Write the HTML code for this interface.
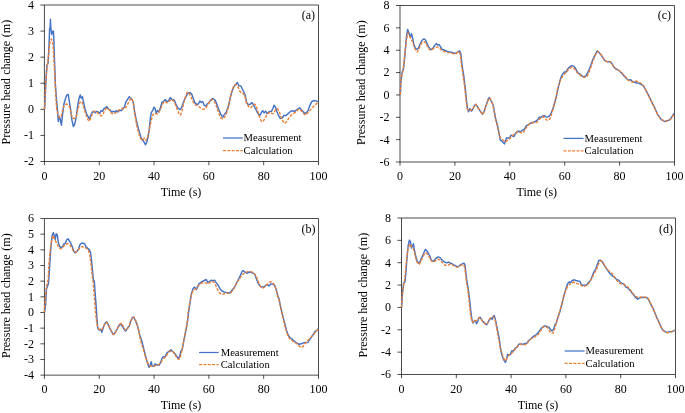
<!DOCTYPE html>
<html><head><meta charset="utf-8"><title>Pressure head change</title>
<style>
html,body{margin:0;padding:0;background:#fff;}
body{width:685px;height:413px;overflow:hidden;font-family:"Liberation Serif",serif;}
svg{display:block;will-change:transform;}
</style></head><body>
<svg width="685" height="413" viewBox="0 0 685 413">
<rect width="685" height="413" fill="#fff"/>
<g stroke="#000" stroke-width="0.7" fill="none">
<path d="M44.42 5H318.5V161.5H44.42Z"/>
<path d="M40.42 5H44.42M40.42 31.08H44.42M40.42 57.17H44.42M40.42 83.25H44.42M40.42 109.33H44.42M40.42 135.42H44.42M40.42 161.5H44.42M44.42 161.5V165.2M99.24 161.5V165.2M154.05 161.5V165.2M208.87 161.5V165.2M263.68 161.5V165.2M318.5 161.5V165.2"/>
</g>
<g font-family='"Liberation Serif", serif' font-size="12" fill="#000">
<text x="33.92" y="8.9" text-anchor="end">4</text>
<text x="33.92" y="34.98" text-anchor="end">3</text>
<text x="33.92" y="61.07" text-anchor="end">2</text>
<text x="33.92" y="87.15" text-anchor="end">1</text>
<text x="33.92" y="113.23" text-anchor="end">0</text>
<text x="33.92" y="139.32" text-anchor="end">-1</text>
<text x="33.92" y="165.4" text-anchor="end">-2</text>
<text x="44.42" y="179.5" text-anchor="middle">0</text>
<text x="99.24" y="179.5" text-anchor="middle">20</text>
<text x="154.05" y="179.5" text-anchor="middle">40</text>
<text x="208.87" y="179.5" text-anchor="middle">60</text>
<text x="263.68" y="179.5" text-anchor="middle">80</text>
<text x="318.5" y="179.5" text-anchor="middle">100</text>
<text x="181.06" y="195.6" text-anchor="middle">Time (s)</text>
<text transform="translate(9.72 28.5) rotate(-90)" text-anchor="middle">(m)</text>
<text transform="translate(9.72 57.85) rotate(-90)" text-anchor="middle">change</text>
<text transform="translate(9.72 89.45) rotate(-90)" text-anchor="middle">head</text>
<text transform="translate(9.72 124.1) rotate(-90)" text-anchor="middle">Pressure</text>
<text x="315.1" y="19.2" text-anchor="end">(a)</text>
</g>
<polyline fill="none" stroke="#4472C4" stroke-width="1.45" stroke-linejoin="round" points="44.6,109.3 45.3,95 45.9,82 46.9,65.5 48.1,63 48.7,52 49.3,38 49.6,28.5 50.15,27.5 50.45,19.3 50.8,27.5 51.2,31 51.7,34.5 52.3,31.5 52.9,33 53.4,31 53.9,40 54.2,52 54.8,68 55.3,82 55.43,85 56.16,95.22 57.33,108.36 58.35,121.5 59.23,116.39 60.25,119.31 61.42,125.15 62.44,115.66 63.9,103.98 66.09,96.68 67.11,94.93 68.28,94.49 69.01,99.6 70.47,108.36 71.93,120.04 73.39,126.61 74.85,123.69 76.31,116.39 77.77,105.44 79.23,97.41 80.25,94.93 81.12,98.14 82.44,96.68 83.61,102.52 85.07,109.09 86.53,113.47 88.72,117.85 89.45,118.87 90.91,114.93 92.36,112.01 93.82,111.28 95.28,112.74 96.74,111.28 98.2,112.01 99.66,113.47 101.12,110.55 102.58,111.28 104.04,108.36 105.5,107.63 106.96,106.61 108.42,109.09 109.88,109.82 111.78,112.01 113.53,111.28 114.99,112.01 116.45,110.55 117.91,112.01 119.37,110.55 121.56,110.55 123.02,108.36 124.48,106.9 125.94,101.79 127.4,99.6 129.3,96.68 131.05,98.43 132.51,100.33 133.46,103.14 134.63,111.9 136.09,119.2 137.84,126.5 139.3,131.61 140.76,136.72 142.51,140.36 143.97,141.82 145.43,144.74 146.89,141.82 148.06,136.72 149.23,129.42 150.25,119.2 151.27,112.63 152.73,110.44 153.9,107.23 155.07,108.25 156.09,113.36 157.55,110.44 159.01,111.9 160.47,107.52 161.93,102.41 163.82,100.95 165.28,99.49 167.04,101.68 168.5,100.95 170.25,97.59 172.15,99.49 174.34,100.22 175.8,103.87 177.55,107.52 179.88,109.71 181.64,107.52 183.09,103.14 184.55,99.49 186.31,95.84 188.2,92.92 190.1,92.63 191.85,94.38 193.31,98.76 195.07,103.14 196.96,104.6 198.42,103.87 199.88,100.95 201.34,102.41 202.8,101.68 204.26,105.33 205.72,106.06 207.18,103.87 208.64,103.14 210.83,99.93 213.02,98.47 215.21,100.22 216.67,103.87 218.86,109.71 220.76,114.09 222.51,117.01 224.7,114.09 226.19,112.15 228.38,106.31 230.13,98.28 232.03,90.98 233.93,86.6 235.68,84.41 237.43,82.51 238.89,85.87 240.79,85.87 242.25,88.79 243.71,91.71 245.17,95.36 246.63,102.66 248.53,104.85 250.28,104.12 252.03,102.66 253.93,105.58 255.82,109.23 257.58,112.88 259.77,115.8 261.23,112.88 262.69,110.69 264.15,112.88 265.61,111.12 267.07,113.61 269.26,111.42 271.45,111.42 272.91,108.5 274.07,105.28 275.39,107.04 276.85,111.42 278.31,115.07 280.2,118.42 282.1,117.99 283.85,115.5 286.04,115.5 288.23,113.61 290.42,111.42 292.61,110.69 294.8,111.42 296.99,109.66 299.62,107.77 301.37,109.66 303.56,112.15 305.75,113.61 307.94,110.69 309.84,105.58 311.59,101.93 313.78,100.47 315.97,100.91 318.6,101.93"/>
<polyline fill="none" stroke="#ED7D31" stroke-width="1.4" stroke-linejoin="round" stroke-dasharray="2.9 1.45" points="44.5,109.3 45.2,95 45.8,82 46.5,72 47.5,65 48.5,55 49.5,45 50.5,40.5 51.4,39.1 52.3,41 53,45 53.8,57 54.5,70 55.3,85 55.43,89.38 56.6,108.36 58.06,114.93 59.81,117.85 61.27,116.39 62.73,109.82 64.19,105.44 66.09,103.98 67.99,104.42 69.74,106.9 71.2,114.2 72.66,117.85 74.41,118.58 76.31,116.39 77.77,109.82 79.23,103.98 80.69,101.35 82.15,102.52 83.61,106.9 85.07,112.01 86.53,116.39 87.99,119.74 89.45,121.2 90.91,117.85 92.36,113.47 93.82,111.57 95.28,111.28 97.47,112.45 99.66,114.93 101.56,115.95 103.31,113.47 105.5,109.09 106.96,108.07 109.15,109.82 111.34,113.03 113.53,114.2 115.72,112.74 117.91,110.99 120.1,109.09 122.29,108.36 124.48,109.09 126.67,106.17 128.86,101.79 130.76,98.43 132.22,98.87 133.46,104.6 134.92,114.82 136.38,123.58 137.84,130.15 139.3,135.26 140.76,138.91 142.51,140.36 144.41,138.18 145.87,140.36 147.33,138.18 148.79,132.34 150.25,125.04 151.71,118.47 153.17,114.09 155.36,113.36 157.11,114.09 159.01,111.9 160.91,108.25 162.66,103.87 164.85,101.39 167.04,102.85 169.23,100.95 171.42,99.49 173.61,100.95 175.5,104.6 177.26,109.71 179.01,114.09 180.47,115.11 181.93,111.9 183.39,104.6 185.28,97.3 187.18,92.19 189.23,93.65 191.12,97.3 193.02,101.68 194.77,104.6 196.96,105.33 199.15,106.79 201.34,108.69 203.53,109.42 205.72,108.25 207.91,104.6 210.1,100.95 212.29,99.49 214.48,101.68 216.67,106.79 218.86,113.36 220.76,118.03 222.51,118.91 224.7,117.01 226.19,114.34 228.38,107.04 230.13,98.28 232.03,90.25 233.93,85.87 235.97,84.41 237.87,86.6 239.77,90.98 241.52,93.17 243.71,93.9 245.17,97.55 246.63,103.39 248.53,106.31 250.57,107.77 252.47,106.31 254.36,104.12 256.12,105.58 257.87,111.42 259.77,117.99 261.66,121.64 263.42,120.91 265.61,117.26 267.8,113.61 269.99,112.15 271.88,113.61 273.64,113.61 275.39,109.96 277.28,108.5 279.18,111.42 280.93,116.53 282.69,120.91 284.58,123.39 286.77,121.64 288.96,117.99 291.15,115.07 293.34,113.61 295.53,112.15 297.72,109.96 299.62,109.23 301.66,111.12 303.56,113.61 305.75,115.07 307.94,112.58 310.13,110.25 312.32,107.77 314.51,105.58 316.7,103.39 318.6,101.93"/>
<path d="M223 138H242.9" stroke="#4472C4" stroke-width="1.25" fill="none"/>
<path d="M223 150.5H242.9" stroke="#ED7D31" stroke-width="1.25" stroke-dasharray="2.9 1.45" fill="none"/>
<g font-family='"Liberation Serif", serif' font-size="10.65" fill="#000"><text x="243.6" y="141.3">Measurement</text><text x="243.6" y="153.6">Calculation</text></g>
<g stroke="#000" stroke-width="0.7" fill="none">
<path d="M44.42 218.5H318.5V375.15H44.42Z"/>
<path d="M40.42 218.5H44.42M40.42 234.16H44.42M40.42 249.83H44.42M40.42 265.5H44.42M40.42 281.16H44.42M40.42 296.82H44.42M40.42 312.49H44.42M40.42 328.15H44.42M40.42 343.82H44.42M40.42 359.49H44.42M40.42 375.15H44.42M44.42 375.15V378.85M99.24 375.15V378.85M154.05 375.15V378.85M208.87 375.15V378.85M263.68 375.15V378.85M318.5 375.15V378.85"/>
</g>
<g font-family='"Liberation Serif", serif' font-size="12" fill="#000">
<text x="33.92" y="222.4" text-anchor="end">6</text>
<text x="33.92" y="238.06" text-anchor="end">5</text>
<text x="33.92" y="253.73" text-anchor="end">4</text>
<text x="33.92" y="269.39" text-anchor="end">3</text>
<text x="33.92" y="285.06" text-anchor="end">2</text>
<text x="33.92" y="300.72" text-anchor="end">1</text>
<text x="33.92" y="316.39" text-anchor="end">0</text>
<text x="33.92" y="332.05" text-anchor="end">-1</text>
<text x="33.92" y="347.72" text-anchor="end">-2</text>
<text x="33.92" y="363.38" text-anchor="end">-3</text>
<text x="33.92" y="379.05" text-anchor="end">-4</text>
<text x="44.42" y="393.15" text-anchor="middle">0</text>
<text x="99.24" y="393.15" text-anchor="middle">20</text>
<text x="154.05" y="393.15" text-anchor="middle">40</text>
<text x="208.87" y="393.15" text-anchor="middle">60</text>
<text x="263.68" y="393.15" text-anchor="middle">80</text>
<text x="318.5" y="393.15" text-anchor="middle">100</text>
<text x="181.06" y="409.25" text-anchor="middle">Time (s)</text>
<text transform="translate(9.72 242) rotate(-90)" text-anchor="middle">(m)</text>
<text transform="translate(9.72 271.35) rotate(-90)" text-anchor="middle">change</text>
<text transform="translate(9.72 302.95) rotate(-90)" text-anchor="middle">head</text>
<text transform="translate(9.72 337.6) rotate(-90)" text-anchor="middle">Pressure</text>
<text x="315.5" y="232.5" text-anchor="end">(b)</text>
</g>
<polyline fill="none" stroke="#4472C4" stroke-width="1.45" stroke-linejoin="round" points="44.63,312.23 45.65,304.2 46.38,289.6 48.57,283.03 50.03,260.04 51.05,245.44 52.22,235.22 53.39,232.59 54.41,235.95 55.14,239.6 56.16,233.76 57.33,235.22 58.35,242.52 59.52,246.17 60.98,247.63 62.44,246.9 63.9,243.98 65.36,243.25 66.82,239.6 68.28,238.87 69.45,241.06 70.91,243.25 72.36,246.9 73.82,251.28 75.28,253.03 77.04,251.28 78.5,249.09 79.96,244.71 81.42,243.25 83.17,243.25 84.63,243.69 86.09,246.9 87.99,248.65 89.45,249.82 90.61,252.74 91.64,261.5 93.39,280.11 94.26,280.84 94.99,291.06 96.01,304.2 96.89,317.34 97.77,328.28 99.23,330.18 100.69,329.31 101.85,332.23 103.31,327.55 104.77,323.91 106.53,321.72 107.99,323.91 109.45,327.55 111.34,331.2 113.24,334.56 114.99,332.66 117.18,329.01 119.08,325.36 120.83,323.91 122.58,326.82 124.04,329.01 125.5,331.2 127.4,328.28 129.3,326.09 130.76,320.99 132.51,317.34 133.68,317.04 135.14,320.26 136.89,323.91 138.35,329.01 139.81,335 139.93,335.44 141.68,340.55 143.14,346.39 144.6,352.23 146.06,358.07 147.52,363.18 148.98,367.26 150.15,365.36 151.17,361.72 152.19,366.09 153.65,366.39 155.11,363.91 157.01,364.93 158.91,365.36 160.66,362.45 162.12,358.07 163.58,356.61 165.33,356.61 166.79,352.96 168.69,351.5 170.88,349.74 172.63,351.5 174.53,353.25 176.42,355.88 178.18,358.5 179.64,356.61 180.8,351.5 182.26,349.31 183.72,341.28 185.18,333.98 186.64,326.68 187.81,319.38 188.47,313.09 189.93,302.88 191.39,294.12 192.85,289.01 194.31,287.11 195.33,287.99 196.35,289.74 197.52,286.82 198.98,283.9 201.17,282.15 203.36,280.98 206.28,279.52 207.74,282.44 209.2,281.71 210.95,280.25 212.85,280.69 214.74,280.25 216.5,283.17 218.25,285.36 220.15,289.01 222.04,290.91 223.8,291.93 225.99,292.36 227.88,292.66 229.93,292.95 231.82,290.47 233.72,288.28 235.47,285.36 237.23,281.71 239.12,278.06 240.58,275.14 242.04,271.49 243.07,270.47 244.96,272.22 247.15,273.39 249.34,271.93 251.53,272.51 253.72,273.39 255.18,275.14 256.64,279.52 258.1,283.17 260,286.09 261.75,287.11 263.94,286.82 265.84,285.36 267.59,284.63 269.05,286.09 270.8,283.9 272.7,283.9 274.6,285.36 276.06,289.01 277.52,294.85 279.12,299.3 280.88,308.06 282.63,315.36 284.53,322.66 286.42,329.96 288.18,335.07 290.36,337.99 292.55,339.45 294.74,341.64 296.93,343.09 299.12,344.26 301.31,343.82 303.5,342.8 305.69,342.8 307.88,342.36 309.78,339.45 311.82,336.53 313.72,333.61 315.18,331.42 317.08,330.25 318.54,328.5"/>
<polyline fill="none" stroke="#ED7D31" stroke-width="1.4" stroke-linejoin="round" stroke-dasharray="2.9 1.45" points="44.19,312.23 45.21,301.28 46.09,289.6 47.11,283.76 48.13,279.38 49.01,262.96 50.47,248.36 51.93,238.87 53.24,235.51 54.85,239.6 56.6,243.25 58.35,246.61 60.25,248.65 61.71,248.65 63.61,246.17 65.36,244.71 67.11,243.69 69.01,243.98 70.91,246.17 72.66,249.82 74.41,252.01 76.31,252.01 78.2,250.11 79.96,247.63 82.15,246.61 84.34,247.19 86.53,248.36 88.42,250.55 89.59,254.2 90.61,261.5 91.64,270.26 93.09,282.3 93.97,292.52 94.85,304.2 95.72,314.42 96.74,323.18 97.77,327.55 99.23,329.31 101.12,330.47 103.02,327.55 104.77,323.91 106.53,322.45 108.42,324.64 110.32,329.01 112.07,332.66 113.53,334.56 115.28,332.66 117.18,329.01 119.37,324.64 121.27,323.18 123.02,326.09 124.92,329.74 126.38,330.18 128.13,327.55 129.88,323.91 131.34,319.53 132.8,317.34 134.26,317.34 136.16,321.72 138.06,327.55 139.52,335 140.51,340.55 142.41,346.39 144.31,352.96 146.06,358.8 147.81,363.18 149.71,365.8 151.9,366.39 154.09,366.09 156.28,365.36 158.47,364.64 160.36,363.18 162.12,360.26 163.87,358.07 165.77,356.61 167.66,353.69 169.71,351.5 171.61,350.77 173.5,352.23 175.26,355.15 177.01,358.07 178.61,359.53 180.36,357.34 181.82,350.77 183.28,343.47 184.74,335.44 186.2,327.41 187.66,319.38 188.03,313.09 189.49,304.34 190.95,297.04 192.41,291.93 193.87,289.74 195.77,289.01 197.52,286.82 199.27,284.63 201.61,283.17 204.09,282.44 206.28,283.17 208.03,283.9 209.93,282.44 211.82,281.27 213.87,282.15 215.77,285.36 217.66,289.74 219.42,292.95 221.61,294.41 223.8,294.12 225.99,292.95 228.18,293.39 230.36,293.39 232.26,290.91 234.01,288.28 236.2,283.9 238.39,280.25 240.58,277.33 242.77,274.41 244.96,272.51 247.15,271.93 249.34,271.49 251.53,271.93 253.72,272.95 255.62,275.14 257.37,279.23 259.12,283.9 261.02,287.11 263.21,287.99 265.4,286.53 267.3,284.19 269.05,282.44 270.8,281.71 272.7,282.73 274.6,285.36 276.35,290.47 277.81,296.31 279.12,300.03 280.88,308.79 282.63,316.09 284.53,324.12 286.42,331.42 288.18,336.53 290.36,339.45 292.55,340.91 294.74,342.36 296.93,343.82 299.12,346.01 301.02,347.47 302.77,346.74 304.96,343.82 307.15,340.91 309.34,339.01 311.53,336.53 313.72,334.34 315.91,331.71 318.54,328.5"/>
<path d="M199.1 352.5H218.6" stroke="#4472C4" stroke-width="1.25" fill="none"/>
<path d="M199.1 364.6H218.6" stroke="#ED7D31" stroke-width="1.25" stroke-dasharray="2.9 1.45" fill="none"/>
<g font-family='"Liberation Serif", serif' font-size="10.65" fill="#000"><text x="220.7" y="355.8">Measurement</text><text x="220.7" y="367.7">Calculation</text></g>
<g stroke="#000" stroke-width="0.7" fill="none">
<path d="M400 5.5H674.5V162H400Z"/>
<path d="M396 5.5H400M396 27.86H400M396 50.21H400M396 72.57H400M396 94.93H400M396 117.29H400M396 139.64H400M396 162H400M400 162V165.7M454.9 162V165.7M509.8 162V165.7M564.7 162V165.7M619.6 162V165.7M674.5 162V165.7"/>
</g>
<g font-family='"Liberation Serif", serif' font-size="12" fill="#000">
<text x="389.5" y="9.4" text-anchor="end">8</text>
<text x="389.5" y="31.76" text-anchor="end">6</text>
<text x="389.5" y="54.11" text-anchor="end">4</text>
<text x="389.5" y="76.47" text-anchor="end">2</text>
<text x="389.5" y="98.83" text-anchor="end">0</text>
<text x="389.5" y="121.19" text-anchor="end">-2</text>
<text x="389.5" y="143.54" text-anchor="end">-4</text>
<text x="389.5" y="165.9" text-anchor="end">-6</text>
<text x="400" y="180" text-anchor="middle">0</text>
<text x="454.9" y="180" text-anchor="middle">20</text>
<text x="509.8" y="180" text-anchor="middle">40</text>
<text x="564.7" y="180" text-anchor="middle">60</text>
<text x="619.6" y="180" text-anchor="middle">80</text>
<text x="674.5" y="180" text-anchor="middle">100</text>
<text x="536.85" y="196.1" text-anchor="middle">Time (s)</text>
<text transform="translate(365.3 29) rotate(-90)" text-anchor="middle">(m)</text>
<text transform="translate(365.3 58.35) rotate(-90)" text-anchor="middle">change</text>
<text transform="translate(365.3 89.95) rotate(-90)" text-anchor="middle">head</text>
<text transform="translate(365.3 124.6) rotate(-90)" text-anchor="middle">Pressure</text>
<text x="671.1" y="19.2" text-anchor="end">(c)</text>
</g>
<polyline fill="none" stroke="#4472C4" stroke-width="1.45" stroke-linejoin="round" points="400.4,94.4 400.6,88 400.92,82 402.09,72.36 403.55,68.72 404.57,58.5 405.59,46.82 406.47,36.6 407.64,29.59 408.95,32.95 410.41,37.33 411.58,33.68 412.6,38.06 413.77,43.9 415.23,47.99 416.98,49.45 418.44,47.99 420.19,43.9 422.09,40.25 423.99,38.79 425.74,40.25 427.2,43.9 428.95,47.55 430.85,49.74 433.04,47.99 434.79,45.36 436.25,43.61 437.71,45.07 439.17,44.63 440.63,46.82 442.09,49.45 443.99,50.03 446.18,50.91 448.36,51.93 450.55,51.93 452.74,52.66 454.93,53.39 456.69,52.66 458.15,51.93 459.61,50.91 460.77,53.39 461.65,61.42 462.53,68.72 463.65,75 464.53,82.3 465.55,91.06 466.57,101.28 467.45,108.58 468.47,111.79 469.93,108.58 471.39,111.2 472.85,109.31 474.31,105.66 475.77,104.2 477.23,106.39 478.69,108.87 480.58,111.5 482.63,114.12 484.09,111.5 485.55,107.12 487.01,102.74 488.18,99.09 489.34,97.63 490.8,100.55 492.26,102.74 493.43,106.39 494.6,112.96 495.77,119.53 497.23,124.64 498.39,129.74 500.33,140.26 501.79,140.99 503.25,142.45 504.42,143.91 505.44,140.99 506.61,137.63 508.07,138.07 509.53,138.07 510.99,135.15 512.45,135.88 513.91,136.61 515.36,133.69 517.12,131.5 518.87,131.2 520.77,131.5 522.66,130.04 524.42,129.31 526.17,125.95 528.07,124.93 529.96,123.47 531.72,122.74 533.91,122.01 535.8,121.28 537.55,119.82 539.31,117.19 541.2,117.19 542.66,116.17 544.12,115.44 545.58,116.61 547.04,117.19 548.5,116.61 549.96,115.44 551.42,112.52 552.88,108.87 554.34,103.76 555.8,98.65 556.68,94.55 558.14,87.99 559.6,82.15 561.06,77.04 562.52,74.12 564.27,71.93 566.17,71.93 567.63,69.01 569.53,67.11 571.57,65.65 573.47,66.09 575.36,67.99 576.82,71.2 578.58,73.39 580.33,74.12 582.23,76.31 584.12,76.74 586.17,75.58 588.07,71.93 589.96,67.55 591.72,62.44 593.47,58.06 595.36,54.41 597.26,50.76 599.01,52.51 600.77,54.41 602.66,57.33 604.56,60.25 606.31,61.42 608.5,61.71 610.4,61.71 612.15,63.9 613.91,67.11 615.8,69.01 617.7,69.74 619.45,70.91 621.2,72.66 623.1,74.85 625,77.04 626.75,78.79 628.5,80.25 630.4,79.66 632.45,81.49 634.64,82.22 636.82,82.95 639.01,83.39 641.2,84.41 643.39,85.87 645.15,88.79 647.04,92.44 648.94,96.09 650.69,99.74 652.45,103.39 654.34,107.04 656.24,111.42 657.99,115.07 659.74,117.55 661.64,119.88 663.54,120.91 665,121.64 666.75,120.91 668.94,120.18 670.84,118.42 672.59,115.8 674.2,113.17"/>
<polyline fill="none" stroke="#ED7D31" stroke-width="1.4" stroke-linejoin="round" stroke-dasharray="2.9 1.45" points="400.3,94.4 400.63,82 401.65,76.01 403.11,70.18 404.13,61.42 405.3,49.74 406.47,39.52 407.93,32.95 409.39,35.87 411.14,38.79 412.6,41.71 414.06,46.82 415.81,50.47 417.27,51.93 418.73,49.74 420.63,44.63 422.53,42.15 424.28,41.71 426.03,43.61 427.93,47.11 429.82,49.74 431.58,50.03 433.77,48.28 435.96,47.11 438.15,47.11 440.34,49.01 442.53,50.91 444.72,51.64 447.64,52.66 450.55,52.95 453.47,53.82 455.66,53.82 457.56,52.36 459.31,51.93 460.48,55.58 461.36,64.34 462.53,71.64 464.23,83.76 465.26,92.52 466.28,102.01 467.3,108.87 468.76,110.77 470.36,109.74 471.82,110.33 473.28,108.28 474.74,105.36 476.06,104.64 477.66,107.12 479.42,110.04 481.17,112.66 482.77,114.42 484.23,111.5 485.69,107.12 487.15,102.74 488.61,99.09 489.93,98.36 491.39,100.99 492.85,104.93 494.01,110.77 495.18,117.34 496.64,123.18 498.1,129.01 499.31,135.15 500.77,138.07 502.52,139.53 504.27,140.99 505.73,141.72 507.63,140.26 509.53,138.8 511.28,136.61 513.47,134.71 515.66,133.25 517.85,131.5 520.04,132.23 522.23,133.25 524.12,131.5 525.88,128.28 527.63,125.66 529.53,123.91 531.72,123.03 533.91,122.45 536.09,122.74 537.85,121.28 539.74,118.65 541.64,117.63 543.39,116.61 545.15,118.36 546.61,120.11 548.5,120.11 549.96,118.65 551.42,114.71 552.88,109.6 554.34,104.49 555.8,99.38 557.41,89.45 558.87,84.34 560.77,79.23 562.52,76.31 564.27,74.12 566.17,72.66 568.07,70.03 569.82,68.28 572.01,67.11 573.91,68.28 575.66,70.47 577.41,72.95 579.31,74.41 581.2,75.87 583.25,77.04 585.15,77.33 587.04,76.31 588.8,72.66 590.55,68.28 592.45,62.44 594.34,57.33 596.09,53.68 597.85,51.49 599.74,52.95 601.64,55.43 603.39,58.35 605.15,60.69 607.04,61.71 609.23,61.27 610.99,62.44 612.88,65.36 614.78,67.99 616.53,69.01 618.72,70.47 620.91,71.93 623.1,74.12 625,76.31 626.75,78.5 628.94,80.69 631.13,81.71 633.18,81.93 635.36,81.05 637.55,81.49 639.74,82.51 641.93,83.97 643.69,85.87 645.58,89.52 647.48,93.61 649.23,97.11 650.99,100.47 652.88,104.41 654.78,108.5 656.53,112.15 658.28,115.5 660.18,117.99 662.08,119.88 663.83,120.47 666.02,121.34 668.21,120.91 670.4,119.45 672.3,116.96 674.2,113.9"/>
<path d="M563.5 138.4H583.5" stroke="#4472C4" stroke-width="1.25" fill="none"/>
<path d="M563.5 150.8H583.5" stroke="#ED7D31" stroke-width="1.25" stroke-dasharray="2.9 1.45" fill="none"/>
<g font-family='"Liberation Serif", serif' font-size="10.65" fill="#000"><text x="584.6" y="141.7">Measurement</text><text x="584.6" y="153.9">Calculation</text></g>
<g stroke="#000" stroke-width="0.7" fill="none">
<path d="M401.5 218H675.5V374.5H401.5Z"/>
<path d="M397.5 218H401.5M397.5 240.36H401.5M397.5 262.71H401.5M397.5 285.07H401.5M397.5 307.43H401.5M397.5 329.79H401.5M397.5 352.14H401.5M397.5 374.5H401.5M401.5 374.5V378.2M456.3 374.5V378.2M511.1 374.5V378.2M565.9 374.5V378.2M620.7 374.5V378.2M675.5 374.5V378.2"/>
</g>
<g font-family='"Liberation Serif", serif' font-size="12" fill="#000">
<text x="391" y="221.9" text-anchor="end">8</text>
<text x="391" y="244.26" text-anchor="end">6</text>
<text x="391" y="266.61" text-anchor="end">4</text>
<text x="391" y="288.97" text-anchor="end">2</text>
<text x="391" y="311.33" text-anchor="end">0</text>
<text x="391" y="333.69" text-anchor="end">-2</text>
<text x="391" y="356.04" text-anchor="end">-4</text>
<text x="391" y="378.4" text-anchor="end">-6</text>
<text x="401.5" y="392.5" text-anchor="middle">0</text>
<text x="456.3" y="392.5" text-anchor="middle">20</text>
<text x="511.1" y="392.5" text-anchor="middle">40</text>
<text x="565.9" y="392.5" text-anchor="middle">60</text>
<text x="620.7" y="392.5" text-anchor="middle">80</text>
<text x="675.5" y="392.5" text-anchor="middle">100</text>
<text x="538.1" y="408.6" text-anchor="middle">Time (s)</text>
<text transform="translate(366.8 241.5) rotate(-90)" text-anchor="middle">(m)</text>
<text transform="translate(366.8 270.85) rotate(-90)" text-anchor="middle">change</text>
<text transform="translate(366.8 302.45) rotate(-90)" text-anchor="middle">head</text>
<text transform="translate(366.8 337.1) rotate(-90)" text-anchor="middle">Pressure</text>
<text x="673" y="232.8" text-anchor="end">(d)</text>
</g>
<polyline fill="none" stroke="#4472C4" stroke-width="1.45" stroke-linejoin="round" points="401.6,307.4 402,301 402.38,295 403.55,283.18 405.01,281.72 406.03,271.5 407.05,256.9 408.22,245.22 409.39,240.11 410.41,241.57 411.43,248.14 412.6,245.95 413.47,243.76 414.35,249.6 415.52,255.44 416.98,260.55 418.44,263.03 419.9,262.01 421.36,258.36 422.82,255.44 424.28,251.79 425.45,249.31 426.91,251.06 428.36,253.25 429.82,256.17 431.28,260.11 433.04,261.28 434.79,259.82 436.25,258.07 438.15,256.9 440.04,257.63 441.8,259.82 443.55,261.28 445.45,262.45 447.34,262.74 448.36,262.01 449.82,263.03 451.72,263.47 453.47,264.93 455.23,265.36 457.12,266.82 458.58,266.39 460.48,264.93 462.23,263.91 463.99,263.18 465.15,265.66 466.03,274.42 466.91,281.72 468.07,288 469.09,295.3 470.11,304.06 470.99,312.82 472.01,320.12 473.03,323.04 474.2,320.85 475.36,320.85 476.53,323.77 477.7,321.58 478.87,317.93 480.04,317.2 481.5,319.39 482.96,321.58 484.71,323.04 486.61,324.79 488.07,322.31 489.53,319.39 490.99,317.93 492.01,319.39 493.18,316.47 494.2,315.45 495.36,319.39 496.39,324.5 497.55,330.34 498.72,336.18 499.74,342.01 500.51,348.5 501.97,355.07 503.43,359.45 505.33,362.36 506.5,359.45 507.52,354.34 508.98,355.07 510.44,354.34 511.9,350.69 513.36,351.12 515.11,348.5 517.01,347.04 518.91,344.12 520.66,343.82 522.85,344.41 525.04,343.39 526.79,343.39 528.69,340.47 530.58,339.01 532.63,337.11 534.53,335.65 536.42,334.63 538.18,332.44 539.93,330.25 541.82,327.77 543.72,326.31 545.47,325.87 547.23,326.6 549.12,327.33 550.58,329.52 552.04,330.98 553.5,329.52 554.96,325.14 556.42,322.22 557.88,317.84 560.41,309.74 561.87,303.91 563.33,298.07 564.79,292.96 566.25,287.85 567.71,283.47 569.17,282.01 570.63,282.74 572.09,280.55 573.99,279.82 576.03,280.55 577.93,280.99 579.82,281.28 581.28,284.2 582.74,285.66 584.5,284.93 586.25,285.36 588.15,282.74 590.04,280.99 591.5,278.36 592.96,273.98 594.42,271.06 595.88,268.87 597.34,264.49 598.8,260.55 600.26,260.11 601.72,261.13 603.47,263.76 605.23,266.68 607.12,269.6 609.02,272.23 611.07,274.71 612.96,276.17 614.86,277.63 616.61,279.53 618.36,280.11 620.26,282.01 622.16,283.47 623.91,284.2 625.66,286.82 627.56,287.85 629.46,289.74 631.21,291.79 632.96,294.12 634.86,296.61 637.55,299.23 639.31,298.06 641.2,297.47 643.39,297.47 645.58,297.47 647.48,298.06 649.23,300.98 650.99,304.63 652.88,308.28 654.78,312.66 656.53,317.04 658.28,320.69 660.18,325.07 662.08,329.01 663.83,330.91 665.58,331.93 667.48,332.36 669.67,331.64 671.86,331.64 673.76,330.91 675.22,330.03"/>
<polyline fill="none" stroke="#ED7D31" stroke-width="1.4" stroke-linejoin="round" stroke-dasharray="2.9 1.45" points="401.5,307.4 402.09,295 403.26,287.55 404.57,280.26 405.59,270.04 406.76,258.36 407.93,249.6 409.39,244.93 410.41,244.05 411.87,247.41 413.33,248.87 414.35,251.79 415.81,258.36 417.27,262.74 419.17,264.2 420.63,262.01 422.09,258.36 423.55,255.44 425.01,253.25 426.47,253.25 427.93,254.71 429.39,257.19 430.85,260.11 432.74,262.01 434.5,261.57 436.25,259.82 438.15,259.09 440.04,260.11 441.8,262.01 443.55,263.91 445.45,265.36 447.64,265.36 449.82,264.2 452.01,264.93 454.2,265.95 456.39,267.12 458.15,266.82 460.04,265.66 461.94,264.93 463.69,264.93 464.86,267.85 465.74,275.88 466.61,283.18 467.63,288 468.65,296.76 469.53,305.52 470.55,314.28 471.72,320.85 473.03,322.31 474.49,320.12 475.95,320.85 477.41,320.12 478.87,317.93 480.33,317.93 481.79,320.12 483.69,322.74 485.88,324.5 487.63,323.04 489.09,320.12 490.55,317.93 492.01,317.2 493.47,316.91 494.93,319.39 496.09,324.5 497.26,331.07 498.43,337.64 499.6,344.2 500.22,347.04 501.68,352.88 503.14,357.26 504.6,360.18 505.77,360.91 507.23,357.26 508.98,355.07 510.73,354.34 512.63,352.15 514.53,349.96 516.57,347.77 518.47,345.28 520.36,343.82 522.41,344.85 524.74,344.85 526.79,343.82 528.69,341.2 530.88,339.01 533.07,337.55 535.26,336.53 537.45,335.36 539.64,332.44 541.82,328.79 543.72,326.6 545.77,326.6 547.66,327.77 549.56,330.98 551.31,333.17 553.07,333.17 554.53,329.52 555.99,324.41 557.45,319.3 559.97,310.47 561.43,305.36 562.89,299.53 564.35,294.42 565.81,290.04 567.71,286.39 569.61,284.2 571.36,283.47 573.55,282.01 575.74,282.74 577.93,283.91 579.82,284.2 581.58,285.66 583.33,286.39 585.23,285.95 587.12,285.36 588.88,283.03 590.63,280.55 592.09,277.63 593.55,274.71 595.01,272.23 596.47,269.6 597.93,265.51 599.39,262.01 600.85,260.55 602.74,262.3 604.64,265.22 606.39,268.43 608.58,270.77 610.77,272.52 612.96,274.27 614.42,276.9 616.32,279.82 618.07,282.01 620.26,283.47 622.45,283.91 624.2,284.49 626.1,285.95 628,287.12 629.75,289.31 631.5,291.5 633.4,294.12 635.3,296.17 637.55,297.33 639.74,297.18 641.93,297.04 644.12,297.04 646.31,297.33 648.07,298.35 649.82,301.71 651.57,305.36 653.32,309.01 655.07,313.39 656.82,317.77 658.58,321.42 660.33,325.5 662.08,328.72 663.83,330.91 666.02,332.36 667.92,332.8 669.96,332.36 672.01,331.64 673.76,330.91 675.22,330.03"/>
<path d="M564.7 351H584.6" stroke="#4472C4" stroke-width="1.25" fill="none"/>
<path d="M564.7 363.4H584.6" stroke="#ED7D31" stroke-width="1.25" stroke-dasharray="2.9 1.45" fill="none"/>
<g font-family='"Liberation Serif", serif' font-size="10.65" fill="#000"><text x="585.6" y="354.3">Measurement</text><text x="585.6" y="366.5">Calculation</text></g>
</svg>
</body></html>
